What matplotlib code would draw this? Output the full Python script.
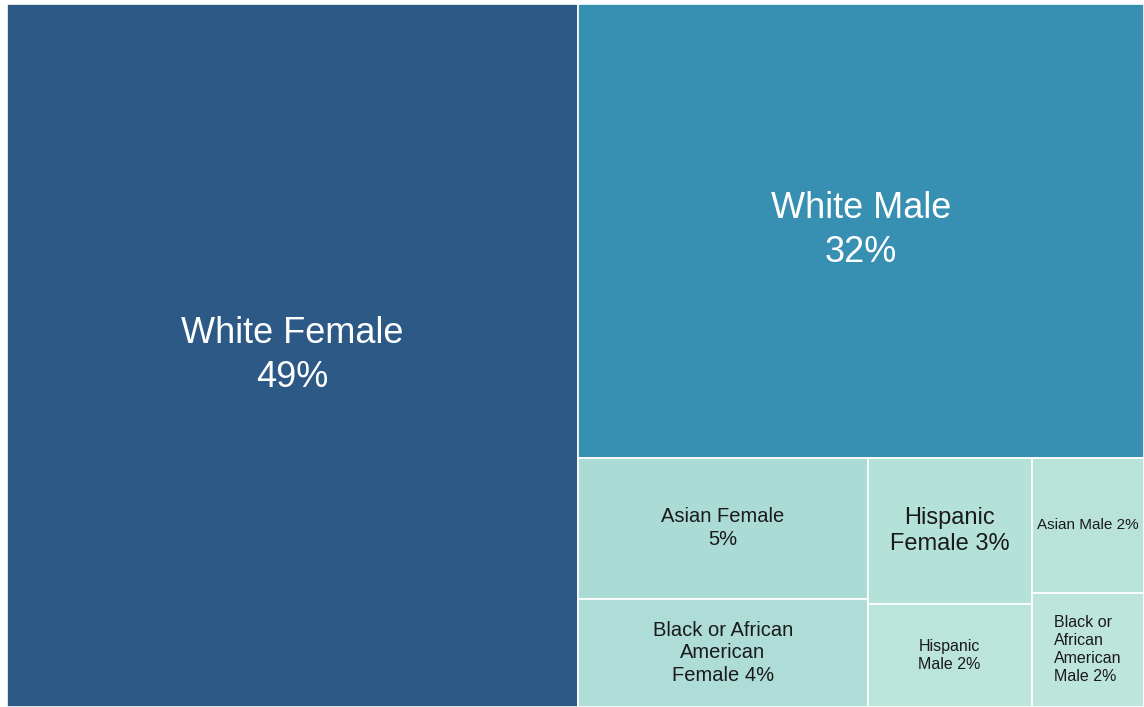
import matplotlib
matplotlib.use("Agg")
import matplotlib.pyplot as plt
from matplotlib.patches import Rectangle

# share of total
labels = ["White Female\n49%", "White Male\n32%",
          "Asian Female\n5%", "Black or African\nAmerican\nFemale 4%",
          "Hispanic\nFemale 3%", "Hispanic\nMale 2%",
          "Asian Male 2%", "Black or\nAfrican\nAmerican\nMale 2%"]
values = [50.1, 32.0, 5.1, 3.9, 3.0, 2.1, 1.9, 1.6]
colors = ["#2c5985", "#378fb1", "#aadbd5", "#aedcd6",
          "#b5e2d8", "#bbe4da", "#b9e3d9", "#bee5dc"]

fig = plt.figure(figsize=(11.44, 7.07), dpi=100)
ax = fig.add_axes([7 / 1144, 0, 1137 / 1144, 703 / 707])
ax.set_xlim(0, 1)
ax.set_ylim(1, 0)
ax.axis("off")

total = sum(values)
rects = []
# big left column
w0 = values[0] / total
rects.append((0, 0, w0, 1))
rest = total - values[0]
wr = 1 - w0
h1 = values[1] / rest
rects.append((w0, 0, wr, h1))
# bottom strip: columns of pairs
small = rest - values[1]
x = w0
for i in range(2, 8, 2):
    pair = values[i] + values[i + 1]
    cw = wr * pair / small
    ha = (1 - h1) * values[i] / pair
    rects.append((x, h1, cw, ha))
    rects.append((x, h1 + ha, cw, (1 - h1) - ha))
    x += cw

sizes = [26, 26, 14.5, 14.5, 17, 11.5, 11, 11.5]
spacing = [1.35, 1.35, 1.3, 1.25, 1.2, 1.25, 1.2, 1.25]
txtcol = ["white", "white"] + ["#1a1a1a"] * 6
for (rx, ry, rw, rh), lab, c, fs, ls, tc in zip(rects, labels, colors, sizes, spacing, txtcol):
    ax.add_patch(Rectangle((rx, ry), rw, rh, facecolor=c, edgecolor="white", lw=1.2))
    ma = "left" if lab.startswith("Black or\n") else "center"
    ax.text(rx + rw / 2, ry + rh / 2, lab, ha="center", va="center", fontsize=fs,
            color=tc, family="Liberation Sans", multialignment=ma, linespacing=ls)

fig.savefig("out.png", dpi=100, facecolor="white")
